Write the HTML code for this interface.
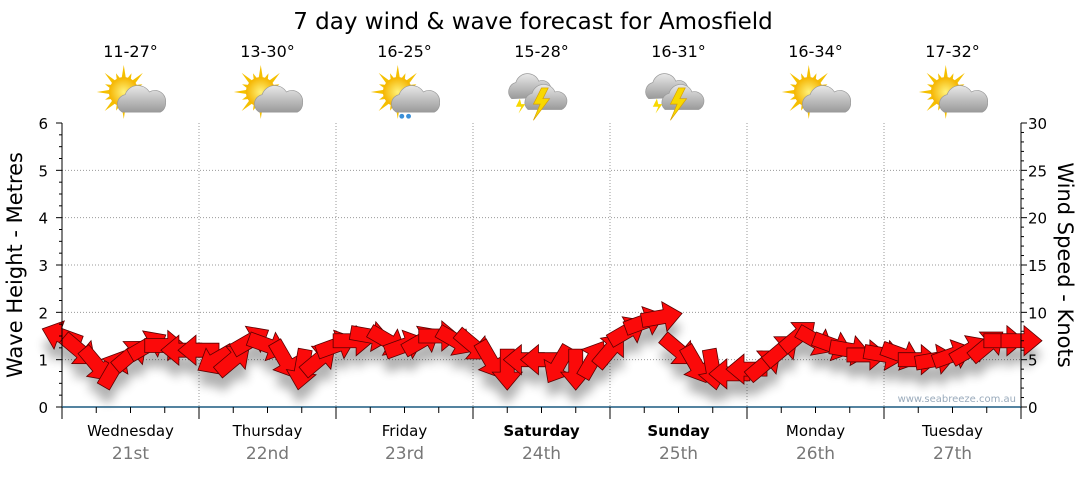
<!DOCTYPE html>
<html><head><meta charset="utf-8"><style>
body{margin:0;background:#fff;width:1080px;height:475px;overflow:hidden;font-family:"DejaVu Sans","Liberation Sans",sans-serif}
svg text{font-family:"DejaVu Sans","Liberation Sans",sans-serif}
</style></head><body>
<svg id="c" width="1080" height="475" xmlns="http://www.w3.org/2000/svg">
<defs>
<radialGradient id="sun" cx="0.5" cy="0.5" r="0.5"><stop offset="0" stop-color="#fff27a"/><stop offset="1" stop-color="#f5b400"/></radialGradient>
<linearGradient id="cloud" x1="0" y1="0" x2="0" y2="1"><stop offset="0" stop-color="#e8e8e8"/><stop offset="1" stop-color="#9a9a9a"/></linearGradient>
<filter id="sh" x="-50%" y="-50%" width="200%" height="250%"><feGaussianBlur stdDeviation="5"/></filter>
</defs>
<text x="533" y="29" font-size="23" text-anchor="middle" fill="#000">7 day wind &amp; wave forecast for Amosfield</text>
<g id="grid"></g><g id="icons"></g><g id="shadow" filter="url(#sh)" opacity="0.3"></g><g id="arrows"></g><g id="axes"></g>
<text x="1016" y="402" font-size="10" fill="#9ab" text-anchor="end">www.seabreeze.com.au</text>
<text transform="translate(22,265) rotate(-90)" font-size="21" text-anchor="middle">Wave Height - Metres</text>
<text transform="translate(1058,265) rotate(90)" font-size="21" text-anchor="middle">Wind Speed - Knots</text>
</svg>
<script>
const days=["Wednesday","Thursday","Friday","Saturday","Sunday","Monday","Tuesday"];
const dates=["21st","22nd","23rd","24th","25th","26th","27th"];
const bold=[false,false,false,true,true,false,false];
const temps=["11-27°","13-30°","16-25°","15-28°","16-31°","16-34°","17-32°"];
const icons=["sun","sun","rain","storm","storm","sun","sun"];
const waveTicks=[0,1,2,3,4,5,6];
const windTicks=[0,5,10,15,20,25,30];
// wind speed every 3 hours (knots)
const windSpeed=[7.5,6,4.5,4,5.5,6.5,6.5,6, 6,5,5,7,6.5,5,4,5, 6.5,7,7.5,7,6.5,7,7.5,7, 6.5,5,4,5,5,4.5,4,5, 6,8,9,9.5,6,4.5,4,3.5, 4,4.5,6,7.5,7,6.5,6,5.5, 5.5,5.5,5,5,5.5,6,6.5,7,7];
// arrow heading (deg, screen, 0=right, 90=down)
const windDir=[200,40,50,-60,-40,-30,0,180, 180,150,-40,-30,20,60,100,-40, -20,0,10,30,-20,-30,0,30, 40,60,90,180,180,120,90,-60, -50,-30,-20,-10,40,60,80,180, 180,-40,-40,-40,30,20,10,0, 10,20,0,-10,-20,-30,-40,0,0];
const X0=62,X1=1021,Y0=407,Y1=123;
const xs=i=>X0+(X1-X0)*i/(windSpeed.length-1);
const yW=v=>Y0-(Y0-Y1)*v/30, yH=v=>Y0-(Y0-Y1)*v/6;
const NS="http://www.w3.org/2000/svg";
function mk(t,a,p){const e=document.createElementNS(NS,t);for(const k in a)e.setAttribute(k,a[k]);(p||document.getElementById('c')).appendChild(e);return e;}
const G=id=>document.getElementById(id);
const dw=(X1-X0)/7;
waveTicks.forEach(v=>{if(v>0&&v<6){const l=mk('line',{x1:X0,x2:X1,y1:yH(v),y2:yH(v),stroke:'#999','stroke-dasharray':'1,2'},G('grid'));}});
for(let d=1;d<7;d++){const l=mk('line',{x1:X0+d*dw,x2:X0+d*dw,y1:Y1,y2:Y0,stroke:'#999','stroke-dasharray':'1,2'},G('grid'));}
const ax=G('axes');
mk('line',{x1:X0,x2:X0,y1:Y1,y2:Y0+12,stroke:'#000'},ax);
mk('line',{x1:X1,x2:X1,y1:Y1,y2:Y0,stroke:'#000'},ax);
const xl=mk('line',{x1:X0,x2:X1,y1:Y0,y2:Y0,stroke:'#1c5a80','stroke-width':1.5},ax);

for(let i=0;i<=24;i++){const v=i*0.25,y=yH(v);mk('line',{x1:X0-(i%4==0?6:3),x2:X0,y1:y,y2:y,stroke:'#000'},ax);}
waveTicks.forEach(v=>{const t=mk('text',{x:48,y:yH(v)+6,'font-size':15,'text-anchor':'end'},ax);t.textContent=v;});
for(let v=0;v<=30;v++){const y=yW(v);mk('line',{x1:X1,x2:X1+(v%5==0?6:3),y1:y,y2:y,stroke:'#000'},ax);}
windTicks.forEach(v=>{const t=mk('text',{x:1028,y:yW(v)+6,'font-size':15},ax);t.textContent=v;});
for(let i=0;i<=28;i++){const x=X0+i*dw/4;mk('line',{x1:x,x2:x,y1:Y0,y2:Y0+(i%4==0?12:6),stroke:'#000'},ax);}
days.forEach((d,i)=>{const cx=X0+dw*(i+0.5);
 const t=mk('text',{x:cx,y:436,'font-size':15,'text-anchor':'middle','font-weight':bold[i]?'bold':'normal'},ax);t.textContent=d;
 const s=mk('text',{x:cx,y:459,'font-size':17,'text-anchor':'middle',fill:'#777'},ax);s.textContent=dates[i];
 const tt=mk('text',{x:cx,y:57,'font-size':16,'text-anchor':'middle'},G('icons'));tt.textContent=temps[i];
 const g=mk('g',{transform:`translate(${cx},96) scale(1.35)`},G('icons'));
 if(icons[i]!=='storm'){
  for(let k=0;k<16;k++){const a=k*Math.PI/8,r=k%2?15:20;mk('polygon',{points:`${-5+Math.cos(a)*r},${-3+Math.sin(a)*r} ${-5+Math.cos(a+0.2)*9},${-3+Math.sin(a+0.2)*9} ${-5+Math.cos(a-0.2)*9},${-3+Math.sin(a-0.2)*9}`,fill:'#f5c000'},g);}
  mk('circle',{cx:-5,cy:-3,r:11,fill:'url(#sun)'},g);
  mk('path',{d:'M-6,12 a7,7 0 0 1 2,-13 a10,10 0 0 1 18,-2 a8,8 0 0 1 12,8 a7,7 0 0 1 -4,7 z',fill:'url(#cloud)',stroke:'#999','stroke-width':0.5},g);
  if(icons[i]==='rain'){mk('circle',{cx:-2,cy:15,r:1.8,fill:'#3a8fd8'},g);mk('circle',{cx:3,cy:15,r:1.8,fill:'#3a8fd8'},g);}
 } else {
  mk('path',{d:'M-22,2 a7,7 0 0 1 3,-12 a9,9 0 0 1 17,-1 a6,6 0 0 1 5,12 z',fill:'url(#cloud)',stroke:'#999','stroke-width':0.5},g);
  mk('path',{d:'M-10,10 a7,7 0 0 1 3,-12 a9,9 0 0 1 17,-1 a7,7 0 0 1 5,13 z',fill:'url(#cloud)',stroke:'#999','stroke-width':0.5},g);
  mk('polygon',{points:'0,-6 -6,6 -1,6 -6,18 6,2 1,2 5,-6',fill:'#f8d800',stroke:'#d9a000','stroke-width':0.5},g);
  mk('polygon',{points:'-16,2 -19,8 -15,8 -17,13 -12,6 -15,6',fill:'#f8d800'},g);
 }
});
const shape='-20,-7 3,-7 3,-15 21,0 3,15 3,7 -20,7';
windSpeed.forEach((v,i)=>{
 const x=xs(i),y=yW(v),a=windDir[i];
 const s=mk('polygon',{points:shape,transform:`translate(${x},${y+14}) rotate(${a})`,fill:'#000'},G('shadow'));
 
 const p=mk('polygon',{points:shape,transform:`translate(${x},${y}) rotate(${a})`,fill:'#fb0a0a',stroke:'#5a0000','stroke-width':0.8},G('arrows'));
 
});
</script>
</body></html>
